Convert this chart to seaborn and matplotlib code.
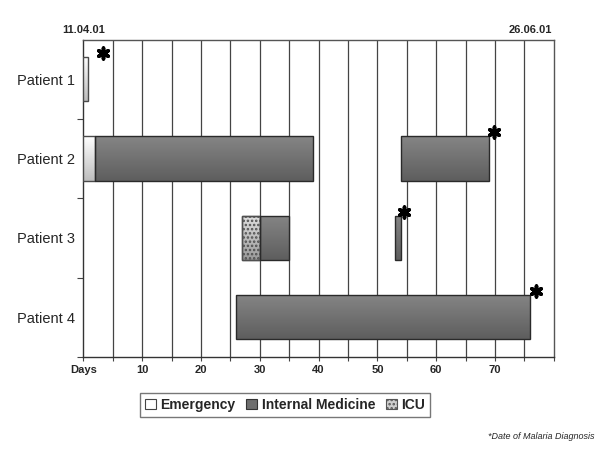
import numpy as np
import pandas as pd
import matplotlib
matplotlib.use("Agg")
import matplotlib.pyplot as plt
from matplotlib.patches import Patch
from matplotlib.colors import to_rgb
import seaborn as sns

# ---- data ----
patients = ["Patient 1", "Patient 2", "Patient 3", "Patient 4"]
seg_patient = ["Patient 1", "Patient 2", "Patient 2", "Patient 2", "Patient 3", "Patient 3", "Patient 3", "Patient 4"]
seg_unit = ["Emergency", "Emergency", "Internal Medicine", "Internal Medicine", "ICU", "Internal Medicine", "Internal Medicine", "Internal Medicine"]
seg_start = [0, 0, 2, 54, 27, 30, 53, 26]
seg_end = [0.8, 2, 39, 69, 30, 35, 54, 76]
diag_patient = ["Patient 1", "Patient 2", "Patient 3", "Patient 4"]
diag_day = [3.3, 69.8, 54.6, 77.0]
x_ticks = [0, 10, 20, 30, 40, 50, 60, 70]
x_ticklabels = ["Days", "10", "20", "30", "40", "50", "60", "70"]
date_ticks = [0, 76]
date_labels = ["11.04.01", "26.06.01"]
legend_units = ["Emergency", "Internal Medicine", "ICU"]

sns.set_theme(style="white")
plt.rcParams["font.family"] = ["Liberation Sans", "DejaVu Sans"]
plt.rcParams["hatch.linewidth"] = 1.2

fig = plt.figure(figsize=(6, 4.5), dpi=100)
ax = fig.add_axes([0.139, 0.207, 0.784, 0.705])

ypos = {p: i for i, p in enumerate(patients)}
bar_h = 0.56

styles = {
    "Emergency": dict(top="#ffffff", bottom="#bdbdbd", edge="#4a4a4a", hatch=None),
    "Internal Medicine": dict(top="#858585", bottom="#5e5e5e", edge="#2a2a2a", hatch=None),
    "ICU": dict(top="#e0e0e0", bottom="#9a9a9a", edge="#505050", hatch="...."),
}

# gridlines
for gx in range(5, 80, 5):
    ax.axvline(gx, color="#444444", lw=0.9, zorder=1)

df = pd.DataFrame({"patient": seg_patient, "unit": seg_unit, "start": seg_start, "end": seg_end})
for _, r in df.iterrows():
    st = styles[r["unit"]]
    yc = ypos[r["patient"]]
    w = r["end"] - r["start"]
    bars = ax.barh(yc, w, left=r["start"], height=bar_h, color="none",
                   edgecolor=st["edge"], linewidth=1.0, zorder=4)
    patch = bars.patches[0]
    c0 = np.array(to_rgb(st["top"]))
    c1 = np.array(to_rgb(st["bottom"]))
    t = np.linspace(0, 1, 64)[:, None, None]
    grad = c0[None, None, :] * (1 - t) + c1[None, None, :] * t
    im = ax.imshow(grad, extent=[r["start"], r["end"], yc + bar_h / 2, yc - bar_h / 2],
                   origin="upper", aspect="auto", zorder=3, interpolation="bilinear")
    im.set_clip_path(patch)
    if st["hatch"]:
        ax.barh(yc, w, left=r["start"], height=bar_h, color="none",
                edgecolor=st["edge"], hatch=st["hatch"], linewidth=1.0, zorder=4)

# diagnosis stars
sdf = pd.DataFrame({"day": diag_day, "y": [ypos[p] - 0.33 for p in diag_patient]})
sns.scatterplot(data=sdf, x="day", y="y", marker=(6, 2, 0), s=60, color="black",
                linewidth=2.6, edgecolor="black", ax=ax, zorder=5, legend=False)

ax.set_xlim(0, 80)
ax.set_ylim(3.5, -0.5)
ax.set_xlabel("")
ax.set_ylabel("")

ax.set_xticks(list(range(0, 81, 5)))
ax.set_xticklabels([x_ticklabels[x_ticks.index(v)] if v in x_ticks else "" for v in range(0, 81, 5)],
                   fontsize=8, fontweight="bold")
ax.tick_params(axis="x", which="major", length=3, width=0.8, color="#444444", pad=3, bottom=True)

ax.set_yticks(range(len(patients)))
ax.set_yticklabels(patients, fontsize=10.5)
ax.tick_params(axis="y", which="major", length=0, pad=6)
ax.set_yticks([0.5, 1.5, 2.5, 3.5], minor=True)
ax.tick_params(axis="y", which="minor", length=4, width=0.8, color="#444444", left=True)

for s in ax.spines.values():
    s.set_color("#555555")
    s.set_linewidth(1.0)
ax.spines["left"].set_color("#333333")
ax.spines["bottom"].set_color("#333333")

top = ax.secondary_xaxis("top")
top.set_xticks(date_ticks)
top.set_xticklabels(date_labels, fontsize=8, fontweight="bold")
top.tick_params(length=0, pad=3)
top.spines["top"].set_visible(False)

handles = [
    Patch(facecolor="white", edgecolor="#444444", linewidth=0.8),
    Patch(facecolor="#6e6e6e", edgecolor="#333333", linewidth=0.8),
    Patch(facecolor="#cfcfcf", edgecolor="#555555", hatch="....", linewidth=0.8),
]
leg = fig.legend(handles, legend_units, loc="center", bbox_to_anchor=(0.475, 0.1), ncol=3,
                 frameon=True, fancybox=False, edgecolor="#555555", handlelength=0.8,
                 handleheight=0.8, handletextpad=0.3, columnspacing=0.8, borderpad=0.35,
                 prop={"size": 10, "weight": "bold"})
leg.get_frame().set_linewidth(1.0)

fig.text(0.99, 0.03, "*Date of Malaria Diagnosis", ha="right", va="center",
         fontsize=6.5, style="italic")

fig.savefig("out.png", dpi=100)
